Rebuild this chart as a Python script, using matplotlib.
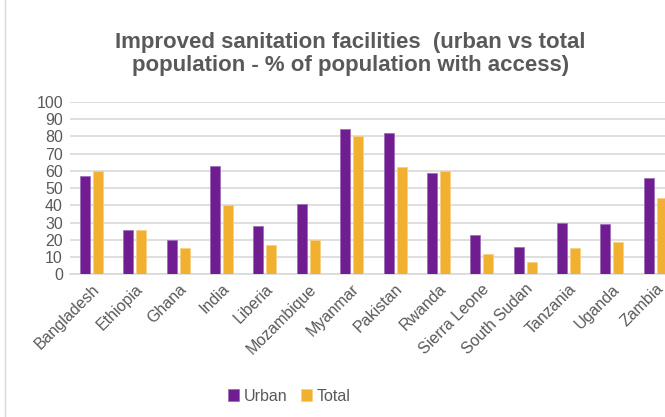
import matplotlib
matplotlib.use("Agg")
import matplotlib.pyplot as plt
import numpy as np

countries = ["Bangladesh", "Ethiopia", "Ghana", "India", "Liberia", "Mozambique",
             "Myanmar", "Pakistan", "Rwanda", "Sierra Leone", "South Sudan",
             "Tanzania", "Uganda", "Zambia"]
urban = [57, 26, 20, 63, 28, 41, 84, 82, 59, 23, 16, 30, 29, 56]
total = [60, 26, 15, 40, 17, 20, 80, 62, 60, 12, 7, 15, 19, 44]
yticks = list(range(0, 101, 10))

purple = "#6F1D91"
orange = "#F2B030"
grey = "#595959"

plt.rcParams['font.family'] = ['Liberation Sans', 'DejaVu Sans']

fig = plt.figure(figsize=(6.65, 4.17), dpi=100)
ax = fig.add_axes([0.105, 0.342, 0.913, 0.414])

x = np.arange(len(countries))
w = 0.23
ax.bar(x - w/2 - 0.035, urban, width=w, color=purple, edgecolor="#9a6ab8", linewidth=0.5, zorder=3, label="Urban")
ax.bar(x + w/2 + 0.035, total, width=w, color=orange, edgecolor="#f7cf80", linewidth=0.5, zorder=3, label="Total")

ax.set_xlim(-0.5, len(countries) - 0.5)
ax.set_ylim(0, 100)
ax.set_yticks(yticks)
ax.set_yticklabels([str(v) for v in yticks], fontsize=11.5, color=grey)
ax.yaxis.grid(True, color="#d9d9d9", linewidth=1.2, zorder=0)
ax.set_xticks(x)
ax.set_xticklabels(countries, rotation=45, ha="right", rotation_mode="anchor", fontsize=11.5, color=grey)
ax.tick_params(axis="both", length=0, pad=5)
for s in ["top", "right", "left"]:
    ax.spines[s].set_visible(False)
ax.spines["bottom"].set_color("#d9d9d9")
ax.spines["bottom"].set_linewidth(1.2)

fig.text(0.527, 0.87, "Improved sanitation facilities  (urban vs total\npopulation - % of population with access)",
         ha="center", va="center", fontsize=16, fontweight="bold", color=grey, linespacing=1.15)

handles, labels = ax.get_legend_handles_labels()
fig.legend(handles, labels, loc="center", bbox_to_anchor=(0.435, 0.05), ncol=2, frameon=False,
           fontsize=11.5, labelcolor=grey, handlelength=0.7, handleheight=0.7, handletextpad=0.3,
           columnspacing=0.8)

fig.add_artist(plt.Line2D([0.008, 0.008], [0, 1], transform=fig.transFigure, color="#d9d9d9", linewidth=1))

fig.savefig("out.png", dpi=100)
